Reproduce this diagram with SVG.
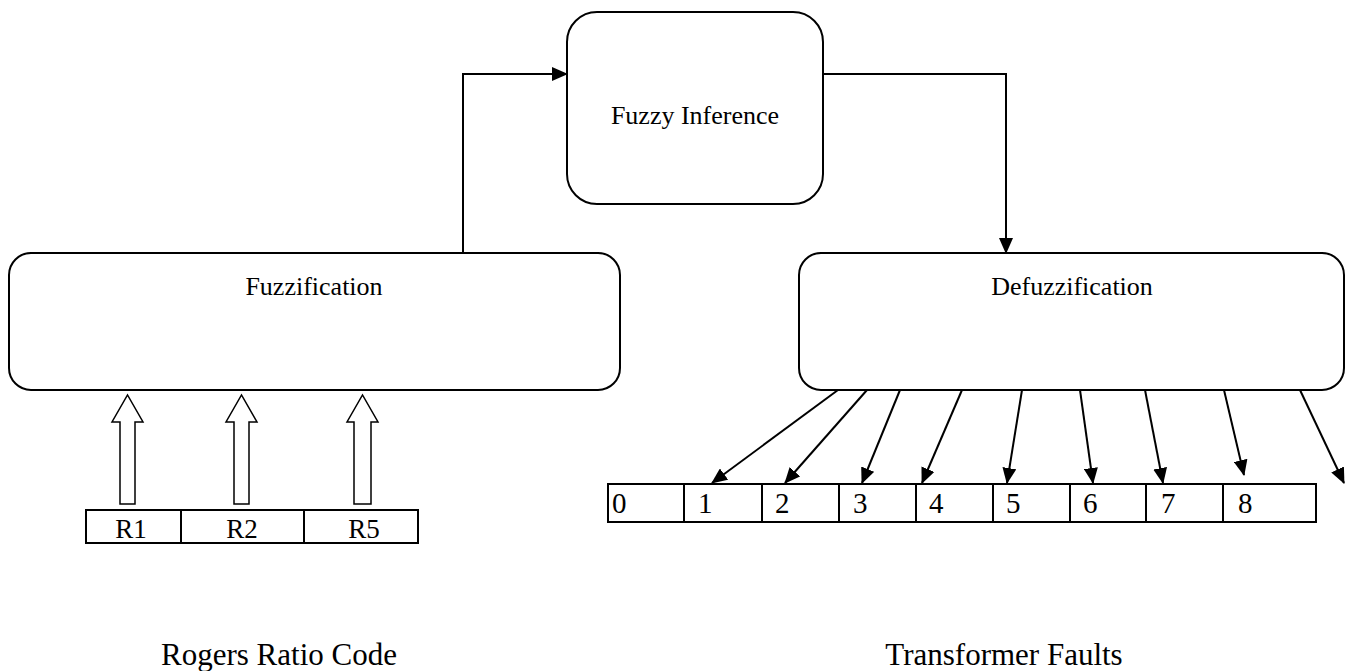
<svg xmlns="http://www.w3.org/2000/svg" width="1351" height="671" viewBox="0 0 1351 671">
<defs>
<style>
.box{fill:#fff;stroke:#000;stroke-width:2}
.ln{fill:none;stroke:#000;stroke-width:2}
.t{font-family:"Liberation Serif","Times New Roman",serif;fill:#000}
.hollow{fill:#fff;stroke:#000;stroke-width:1.5;stroke-linejoin:miter}
</style>
<marker id="ah" viewBox="0 0 16 14" refX="15" refY="7" markerWidth="16" markerHeight="14" markerUnits="userSpaceOnUse" orient="auto">
<path d="M0,0 L16,7 L0,14 z" fill="#000"/>
</marker>
</defs>
<rect width="1351" height="671" fill="#fff"/>

<g id="fuzzy-inference">
<rect class="box" x="567" y="12" width="256" height="192" rx="30"/>
<text class="t" x="695" y="124" font-size="26" text-anchor="middle">Fuzzy Inference</text>
</g>
<g id="fuzzification">
<rect class="box" x="9" y="253" width="611" height="137" rx="22"/>
<text class="t" x="314" y="295" font-size="26" text-anchor="middle">Fuzzification</text>
</g>
<g id="defuzzification">
<rect class="box" x="799" y="253" width="545" height="137" rx="22"/>
<text class="t" x="1072" y="295" font-size="26" text-anchor="middle">Defuzzification</text>
</g>

<g id="rogers-table">
<rect class="box" x="86" y="510" width="332" height="33"/>
<line class="ln" x1="181" y1="510" x2="181" y2="543"/>
<line class="ln" x1="304" y1="510" x2="304" y2="543"/>
<text class="t" x="131" y="538" font-size="27" text-anchor="middle">R1</text>
<text class="t" x="242" y="538" font-size="27" text-anchor="middle">R2</text>
<text class="t" x="364" y="538" font-size="27" text-anchor="middle">R5</text>
</g>

<g id="faults-table">
<rect class="box" x="608" y="484" width="708" height="38"/>
<line class="ln" x1="684" y1="484" x2="684" y2="522"/>
<line class="ln" x1="762" y1="484" x2="762" y2="522"/>
<line class="ln" x1="839" y1="484" x2="839" y2="522"/>
<line class="ln" x1="916" y1="484" x2="916" y2="522"/>
<line class="ln" x1="993" y1="484" x2="993" y2="522"/>
<line class="ln" x1="1070" y1="484" x2="1070" y2="522"/>
<line class="ln" x1="1146" y1="484" x2="1146" y2="522"/>
<line class="ln" x1="1223" y1="484" x2="1223" y2="522"/>
<g class="t" font-size="29">
<text x="612" y="513">0</text>
<text x="698" y="513">1</text>
<text x="775" y="513">2</text>
<text x="853" y="513">3</text>
<text x="929" y="513">4</text>
<text x="1006" y="513">5</text>
<text x="1083" y="513">6</text>
<text x="1161" y="513">7</text>
<text x="1238" y="513">8</text>
</g>
</g>

<g id="labels">
<text class="t" x="279" y="665" font-size="31" text-anchor="middle">Rogers Ratio Code</text>
<text class="t" x="1004" y="665" font-size="31" text-anchor="middle">Transformer Faults</text>
</g>

<g id="connectors">
<path class="ln" d="M463,253 V74 H567" marker-end="url(#ah)"/>
<path class="ln" d="M823,74 H1006 V253" marker-end="url(#ah)"/>
<path class="hollow" d="M120,504 V422 H112 L127.5,395 L143,422 H135 V504 Z"/>
<path class="hollow" d="M234,504 V422 H226 L241.5,395 L257,422 H249 V504 Z"/>
<path class="hollow" d="M354,504 V422 H347 L362.5,395 L378,422 H371 V504 Z"/>
<line class="ln" x1="838" y1="390" x2="712" y2="483" marker-end="url(#ah)"/>
<line class="ln" x1="867" y1="390" x2="785" y2="483" marker-end="url(#ah)"/>
<line class="ln" x1="900" y1="390" x2="862" y2="483" marker-end="url(#ah)"/>
<line class="ln" x1="962" y1="390" x2="922" y2="483" marker-end="url(#ah)"/>
<line class="ln" x1="1022" y1="390" x2="1007" y2="483" marker-end="url(#ah)"/>
<line class="ln" x1="1080" y1="390" x2="1093" y2="483" marker-end="url(#ah)"/>
<line class="ln" x1="1145" y1="390" x2="1163" y2="483" marker-end="url(#ah)"/>
<line class="ln" x1="1224" y1="390" x2="1244" y2="475" marker-end="url(#ah)"/>
<line class="ln" x1="1300" y1="390" x2="1344" y2="483" marker-end="url(#ah)"/>
</g>
</svg>
